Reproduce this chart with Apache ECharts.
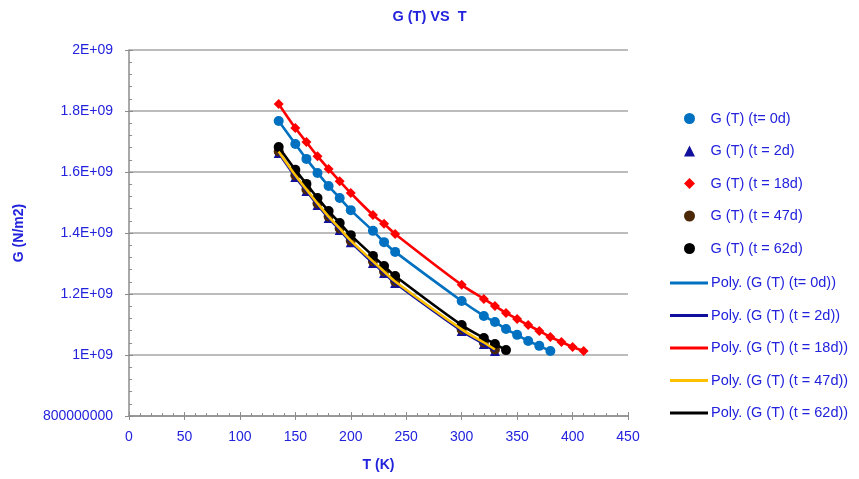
<!DOCTYPE html>
<html>
<head>
<meta charset="utf-8">
<script src="https://cdn.jsdelivr.net/npm/echarts@6/dist/echarts.min.js"></script>
<style>
  html, body { margin: 0; padding: 0; background: #fff; }
  #chart { width: 859px; height: 479px; }
</style>
</head>
<body>
<div id="chart"></div>
<script>
// temperatures (K) per series
const T0 = [135, 150, 160, 170, 180, 190, 200, 220, 230, 240, 300, 320, 330, 340, 350, 360, 370, 380];
const T2 = [135, 150, 160, 170, 180, 190, 200, 220, 230, 240, 300, 320, 330];
const T18 = [135, 150, 160, 170, 180, 190, 200, 220, 230, 240, 300, 320, 330, 340, 350, 360, 370, 380, 390, 400, 410];
const T47 = [135, 150, 160, 170, 180, 190, 200, 220, 230, 240, 300, 320, 330];
const T62 = [135, 150, 160, 170, 180, 190, 200, 220, 230, 240, 300, 320, 330, 340];

// G (N/m2), in 1E+09
const G0 = [1.767, 1.692, 1.643, 1.597, 1.554, 1.515, 1.475, 1.407, 1.370, 1.338, 1.177, 1.128, 1.108, 1.085, 1.066, 1.046, 1.030, 1.013];
const G2 = [1.662, 1.584, 1.538, 1.492, 1.449, 1.410, 1.370, 1.302, 1.269, 1.236, 1.079, 1.036, 1.013];
const G18 = [1.823, 1.744, 1.698, 1.652, 1.610, 1.570, 1.531, 1.459, 1.430, 1.397, 1.230, 1.184, 1.161, 1.138, 1.118, 1.098, 1.079, 1.059, 1.043, 1.026, 1.013];
const G47 = [1.667, 1.589, 1.543, 1.497, 1.454, 1.415, 1.375, 1.307, 1.274, 1.241, 1.084, 1.041, 1.018];
const G62 = [1.682, 1.607, 1.561, 1.515, 1.472, 1.433, 1.393, 1.325, 1.292, 1.259, 1.098, 1.056, 1.036, 1.016];

const pointNames = ['G (T) (t= 0d)', 'G (T) (t = 2d)', 'G (T) (t = 18d)', 'G (T) (t = 47d)', 'G (T) (t = 62d)'];
const polyNames = ['Poly. (G (T) (t= 0d))', 'Poly. (G (T) (t = 2d))', 'Poly. (G (T) (t = 18d))', 'Poly. (G (T) (t = 47d))', 'Poly. (G (T) (t = 62d))'];

const TEXT = '#2222DD';
const AXIS = '#8C8C8C';
const FONT = '"Liberation Sans", Arial, sans-serif';

const ICONS = {
  circle: 'circle',
  triangle: 'path://M5,0L10,10L0,10Z',
  diamond: 'path://M5,0L10,5L5,10L0,5Z'
};
const LINE_ICON = 'path://M0,0L38,0L38,3L0,3Z';

function pairs(xs, ys) {
  return xs.map(function (x, i) { return [x, ys[i] * 1e9]; });
}

const sets = [
  { x: T0, y: G0, symbol: 'circle', size: 10, mark: '#0070C0', line: '#0070C0' },
  { x: T2, y: G2, symbol: 'triangle', size: 10, mark: '#10109C', line: '#10109C' },
  { x: T18, y: G18, symbol: 'diamond', size: 10, mark: '#FF0000', line: '#FF0000' },
  { x: T47, y: G47, symbol: 'circle', size: 10, mark: '#4A2808', line: '#FFC000' },
  { x: T62, y: G62, symbol: 'circle', size: 10, mark: '#000000', line: '#000000' }
];

const series = [];
sets.forEach(function (s, i) {
  series.push({
    name: pointNames[i], type: 'scatter', symbol: s.symbol, symbolSize: s.size,
    itemStyle: { color: s.mark, opacity: 1 }, data: pairs(s.x, s.y), z: 2
  });
});
sets.forEach(function (s, i) {
  series.push({
    name: polyNames[i], type: 'line', smooth: 0.35, symbol: 'none', showSymbol: false,
    lineStyle: { color: s.line, width: 2.6 }, itemStyle: { color: s.line },
    data: pairs(s.x, s.y), z: 3
  });
});

const chart = echarts.init(document.getElementById('chart'));
chart.setOption({
  animation: false,
  title: {
    text: 'G (T) VS  T', left: 'center', top: 4,
    textStyle: { color: TEXT, fontSize: 14.5, fontWeight: 'bold', fontFamily: FONT }
  },
  legend: [{
    orient: 'vertical', left: 684, top: 110, padding: 0,
    itemWidth: 38, itemHeight: 11, itemGap: 15.5,
    symbolKeepAspect: true,
    data: pointNames.map(function (n, i) { return { name: n, icon: ICONS[sets[i].symbol] }; }),
    textStyle: { color: TEXT, fontSize: 14.5, fontFamily: FONT, lineHeight: 17, padding: [0, 0, 0, -3] }
  }, {
    orient: 'vertical', left: 670, top: 274.5, padding: 0,
    itemWidth: 38, itemHeight: 11, itemGap: 15.5,
    symbolKeepAspect: true,
    data: polyNames.map(function (n) { return { name: n, icon: LINE_ICON }; }),
    textStyle: { color: TEXT, fontSize: 14.5, fontFamily: FONT, lineHeight: 17, padding: [0, 0, 0, -2] }
  }],
  grid: { left: 129, right: 231, top: 50, bottom: 63 },
  xAxis: [{
    type: 'value', position: 'bottom', min: 0, max: 450, interval: 50,
    name: 'T (K)', nameLocation: 'middle', nameGap: 42,
    nameTextStyle: { color: TEXT, fontSize: 14, fontWeight: 'bold', fontFamily: FONT },
    axisLine: { show: true, lineStyle: { color: AXIS, width: 1.5 } },
    axisTick: { show: true, inside: false, length: 4, lineStyle: { color: AXIS } },
    axisLabel: { color: TEXT, fontSize: 14, fontFamily: FONT, margin: 14 },
    splitLine: { show: false }
  }, {
    type: 'value', position: 'bottom', min: 0, max: 450, interval: 50,
    axisLine: { show: false },
    axisTick: { show: true, inside: true, length: 4, lineStyle: { color: AXIS } },
    minorTick: { show: true, splitNumber: 5, length: 3, lineStyle: { color: AXIS } },
    axisLabel: { show: false },
    splitLine: { show: false }
  }],
  yAxis: [{
    type: 'value', position: 'left', min: 8e8, max: 2e9, interval: 2e8,
    name: 'G (N/m2)', nameLocation: 'middle', nameGap: 103,
    nameTextStyle: { color: TEXT, fontSize: 14, fontWeight: 'bold', fontFamily: FONT },
    axisLine: { show: true, lineStyle: { color: AXIS, width: 1.5 } },
    axisTick: { show: true, inside: false, length: 4, lineStyle: { color: AXIS } },
    axisLabel: {
      color: TEXT, fontSize: 14, fontFamily: FONT, margin: 16,
      formatter: function (v) {
        if (v < 1e9) return String(Math.round(v));
        return parseFloat((v / 1e9).toFixed(2)) + 'E+09';
      }
    },
    splitLine: { show: true, lineStyle: { color: '#A6A6A6', width: 1.5 } }
  }, {
    type: 'value', position: 'left', min: 8e8, max: 2e9, interval: 2e8,
    axisLine: { show: false },
    axisTick: { show: true, inside: true, length: 4, lineStyle: { color: AXIS } },
    minorTick: { show: true, splitNumber: 5, length: 3, lineStyle: { color: AXIS } },
    axisLabel: { show: false },
    splitLine: { show: false }
  }],
  series: series
});
</script>
</body>
</html>
